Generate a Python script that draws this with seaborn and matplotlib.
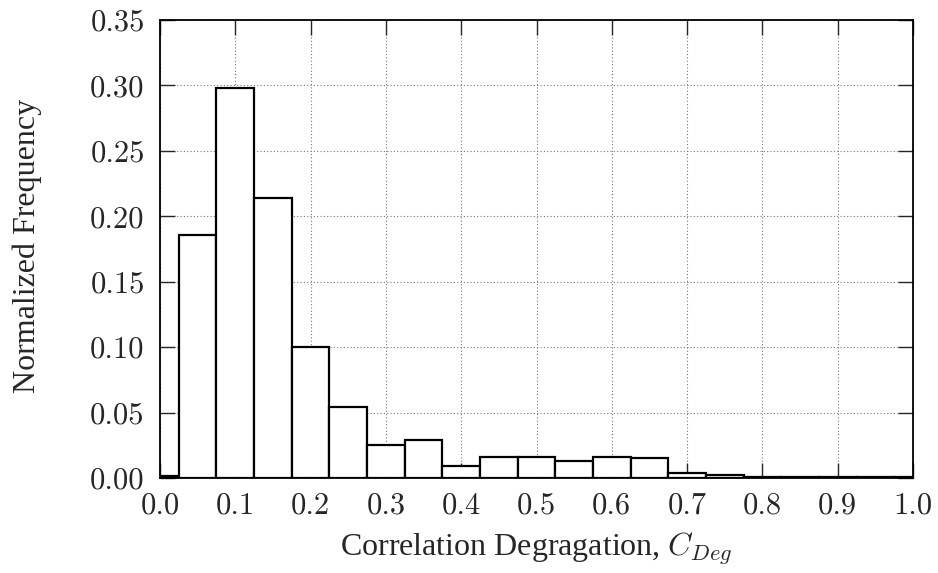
import numpy as np
import pandas as pd
import matplotlib
matplotlib.use("Agg")
import matplotlib.pyplot as plt
import seaborn as sns

# Bin centers and normalized frequencies
bin_centers = [0.00, 0.05, 0.10, 0.15, 0.20, 0.25, 0.30, 0.35, 0.40, 0.45,
               0.50, 0.55, 0.60, 0.65, 0.70, 0.75, 0.80, 0.85, 0.90, 0.95, 1.00]
frequencies = [0.0015, 0.186, 0.298, 0.214, 0.100, 0.054, 0.025, 0.029, 0.009, 0.016,
               0.016, 0.013, 0.016, 0.015, 0.004, 0.0025, 0.0006, 0.0005, 0.0004, 0.0004, 0.0004]
bin_width = 0.05
x_ticks = [0.0, 0.1, 0.2, 0.3, 0.4, 0.5, 0.6, 0.7, 0.8, 0.9, 1.0]
y_ticks = [0.00, 0.05, 0.10, 0.15, 0.20, 0.25, 0.30, 0.35]

sns.set_style("ticks")
plt.rcParams["font.family"] = ["cmr10", "DejaVu Serif"]
plt.rcParams["mathtext.fontset"] = "cm"
plt.rcParams["axes.formatter.use_mathtext"] = True

fig = plt.figure(figsize=(9.38, 5.73), dpi=100)
ax = fig.add_axes([160/938, 1-478/573, (913-160)/938, (478-20)/573])

df = pd.DataFrame({"center": bin_centers, "freq": frequencies})
edges = [c - bin_width/2 for c in bin_centers] + [bin_centers[-1] + bin_width/2]
sns.histplot(data=df, x="center", weights="freq", bins=edges, stat="count",
             color="white", edgecolor="black", linewidth=1.6, alpha=1, ax=ax)

ax.set_xlim(0, 1.0)
ax.set_ylim(0, 0.35)
ax.set_xticks(x_ticks)
ax.set_yticks(y_ticks)
ax.set_xticklabels([f"{v:.1f}" for v in x_ticks])
ax.set_yticklabels([f"{v:.2f}" for v in y_ticks])
ax.set_axisbelow(True)
ax.grid(True, linestyle=(0, (1, 2)), color="#777777", linewidth=0.8)
ax.tick_params(direction="in", length=11, width=1.0, top=True, right=True,
               labelsize=22)
ax.tick_params(axis="y", pad=11)
ax.tick_params(axis="x", pad=10)
for s in ax.spines.values():
    s.set_visible(True)
    s.set_linewidth(1.3)
    s.set_color("black")
ax.set_xlabel(r"Correlation Degragation, $C_{Deg}$", fontsize=23,
              family="Liberation Serif")
ax.set_ylabel("Normalized Frequency", fontsize=23, family="Liberation Serif")
ax.yaxis.set_label_coords(-0.1567, 0.5066)
ax.xaxis.set_label_coords(0.5, (478 - 531) / 458)

fig.savefig("out.png", dpi=100)
